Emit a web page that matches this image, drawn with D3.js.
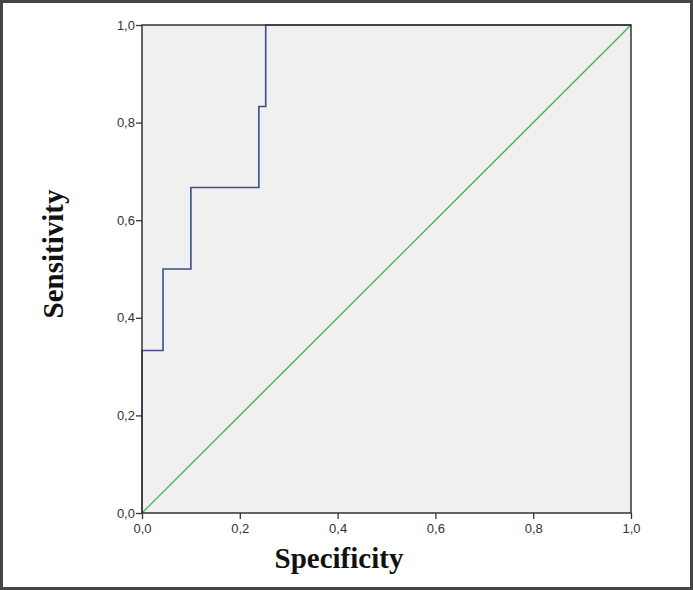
<!DOCTYPE html>
<html>
<head>
<meta charset="utf-8">
<script src="https://cdn.jsdelivr.net/npm/d3@7"></script>
<style>
  body { margin: 0; background: #fff; }
  svg { display: block; }
</style>
</head>
<body>
<div id="chart"></div>
<script>
// ROC step curve (1 - specificity, sensitivity)
const fpr = [0, 0, 0.043, 0.043, 0.1, 0.1, 0.239, 0.239, 0.253, 0.253, 1];
const tpr = [0, 0.333, 0.333, 0.5, 0.5, 0.667, 0.667, 0.833, 0.833, 1, 1];
const refLine = [0, 1];
const tickValues = [0, 0.2, 0.4, 0.6, 0.8, 1.0];

const width = 693, height = 590;
const margin = {top: 25, right: 62, bottom: 77, left: 142};

const svg = d3.select("#chart").append("svg")
    .attr("width", width)
    .attr("height", height);

// outer frame
svg.append("rect")
    .attr("x", 1.5).attr("y", 1.5)
    .attr("width", width - 3).attr("height", height - 3)
    .attr("fill", "#fff")
    .attr("stroke", "#454545")
    .attr("stroke-width", 3);

const x = d3.scaleLinear().domain([0, 1]).range([margin.left, width - margin.right]);
const y = d3.scaleLinear().domain([0, 1]).range([height - margin.bottom, margin.top]);

// plot background
svg.append("rect")
    .attr("x", x(0)).attr("y", y(1))
    .attr("width", x(1) - x(0)).attr("height", y(0) - y(1))
    .attr("fill", "#f0f0f0");

const fmt = d => d3.format(".1f")(d).replace(".", ",");

// axes
const xAxis = svg.append("g")
    .attr("transform", `translate(0,${y(0)})`)
    .call(d3.axisBottom(x).tickValues(tickValues).tickFormat(fmt).tickSize(6).tickSizeOuter(0));

const yAxis = svg.append("g")
    .attr("transform", `translate(${x(0)},0)`)
    .call(d3.axisLeft(y).tickValues(tickValues).tickFormat(fmt).tickSize(6).tickSizeOuter(0));

[xAxis, yAxis].forEach(g => {
    g.select(".domain").remove();
    g.selectAll("line").attr("stroke", "#333").attr("stroke-width", 1.3);
    g.selectAll("text")
        .attr("font-family", "Liberation Sans, Arial, sans-serif")
        .attr("font-size", 13)
        .attr("fill", "#333");
});
xAxis.selectAll("text").attr("dy", "0.85em");
yAxis.selectAll("text").attr("dx", "0.15em");

// diagonal reference line
svg.append("line")
    .attr("x1", x(refLine[0])).attr("y1", y(refLine[0]))
    .attr("x2", x(refLine[1])).attr("y2", y(refLine[1]))
    .attr("stroke", "#4caf50")
    .attr("stroke-width", 1.3);

// ROC curve
const points = fpr.map((d, i) => [d, tpr[i]]);
svg.append("path")
    .datum(points)
    .attr("fill", "none")
    .attr("stroke", "#3e4a94")
    .attr("stroke-width", 1.6)
    .attr("d", d3.line().x(d => x(d[0])).y(d => y(d[1])));

// plot frame
svg.append("rect")
    .attr("x", x(0)).attr("y", y(1))
    .attr("width", x(1) - x(0)).attr("height", y(0) - y(1))
    .attr("fill", "none")
    .attr("stroke", "#333")
    .attr("stroke-width", 1.5);

// axis titles
svg.append("text")
    .attr("x", 339)
    .attr("y", 568)
    .attr("text-anchor", "middle")
    .attr("font-family", "Liberation Serif, Times New Roman, serif")
    .attr("font-weight", "bold")
    .attr("font-size", 29)
    .attr("fill", "#111")
    .text("Specificity");

svg.append("text")
    .attr("transform", `translate(63,254) rotate(-90)`)
    .attr("text-anchor", "middle")
    .attr("font-family", "Liberation Serif, Times New Roman, serif")
    .attr("font-weight", "bold")
    .attr("font-size", 29)
    .attr("fill", "#111")
    .text("Sensitivity");
</script>
</body>
</html>
